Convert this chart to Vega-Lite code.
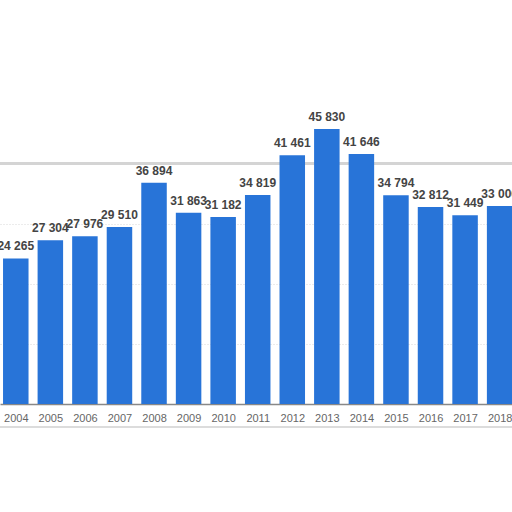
{
  "$schema": "https://vega.github.io/schema/vega-lite/v6.json",
  "width": 512,
  "height": 404,
  "autosize": "none",
  "padding": {"left": 0, "top": 0, "right": 0, "bottom": 108},
  "background": "white",
  "data": {
    "values": [
      {"year": 2004, "value": 24265},
      {"year": 2005, "value": 27304},
      {"year": 2006, "value": 27976},
      {"year": 2007, "value": 29510},
      {"year": 2008, "value": 36894},
      {"year": 2009, "value": 31863},
      {"year": 2010, "value": 31182},
      {"year": 2011, "value": 34819},
      {"year": 2012, "value": 41461},
      {"year": 2013, "value": 45830},
      {"year": 2014, "value": 41646},
      {"year": 2015, "value": 34794},
      {"year": 2016, "value": 32812},
      {"year": 2017, "value": 31449},
      {"year": 2018, "value": 33006}
    ]
  },
  "encoding": {
    "x": {
      "field": "year",
      "type": "quantitative",
      "scale": {"domain": [2003.688, 2018.213], "nice": false, "zero": false},
      "axis": {
        "title": null,
        "values": [2004, 2005, 2006, 2007, 2008, 2009, 2010, 2011, 2012, 2013, 2014, 2015, 2016, 2017, 2018],
        "format": "d",
        "labelFlush": false,
        "labelOverlap": false,
        "grid": false,
        "ticks": false,
        "domainColor": "#888888",
        "domainWidth": 1.5,
        "labelColor": "#666666",
        "labelFont": "Liberation Sans",
        "labelFontSize": 11,
        "labelPadding": 8
      }
    },
    "y": {
      "field": "value",
      "type": "quantitative",
      "scale": {"domain": [0, 67330], "nice": false},
      "axis": {
        "title": null,
        "labels": false,
        "ticks": false,
        "domain": false,
        "values": [10000, 20000, 30000],
        "gridColor": "#d8d8d8",
        "gridDash": [1, 2],
        "gridWidth": 1
      }
    }
  },
  "layer": [
    {
      "mark": {"type": "rule", "color": "#d4d4d4", "strokeWidth": 2},
      "encoding": {"x": {"value": 0}, "x2": {"value": 512}, "y": {"datum": 40100}}
    },
    {
      "mark": {"type": "rule", "color": "#dcdcdc", "strokeWidth": 2, "clip": false},
      "encoding": {"x": {"value": 0}, "x2": {"value": 512}, "y": {"datum": -3830}}
    },
    {
      "mark": {"type": "bar", "size": 25.5, "color": "#2874d8", "clip": true}
    },
    {
      "mark": {
        "type": "text",
        "baseline": "bottom",
        "dy": -5,
        "font": "Liberation Sans",
        "fontSize": 12,
        "fontWeight": "bold",
        "color": "#444444",
        "clip": true
      },
      "encoding": {
        "text": {"field": "value", "type": "quantitative", "format": ",d"}
      }
    }
  ],
  "config": {
    "view": {"stroke": null},
    "locale": {
      "number": {"decimal": ",", "thousands": " ", "grouping": [3], "currency": ["", ""]}
    }
  }
}
